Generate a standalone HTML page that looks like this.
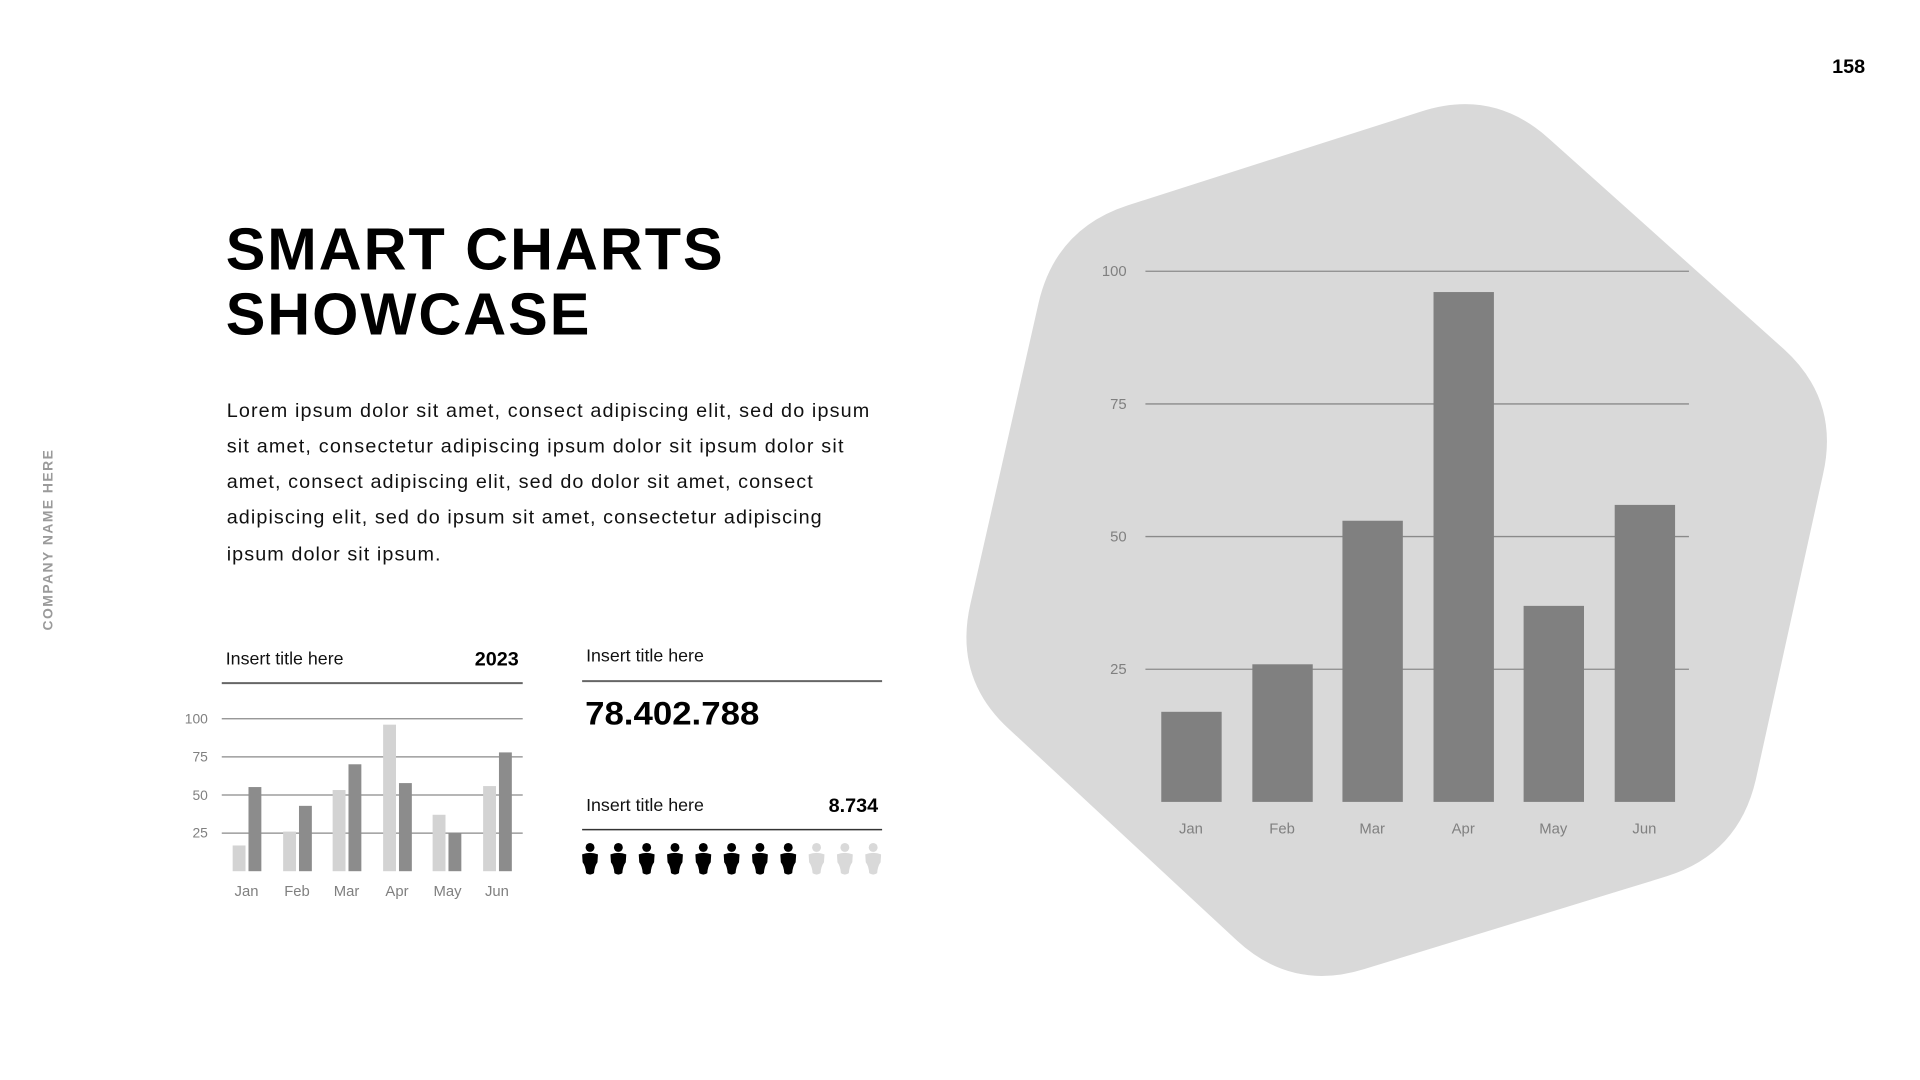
<!DOCTYPE html>
<html><head><meta charset="utf-8"><style>
html,body{margin:0;padding:0;background:#fff;width:1920px;height:1080px;overflow:hidden}
svg{display:block}
text{font-family:"Liberation Sans",sans-serif}
</style></head><body>
<svg width="1920" height="1080" viewBox="0 0 1920 1080" xmlns="http://www.w3.org/2000/svg">
<rect width="1920" height="1080" fill="#fff"/>
<g transform="scale(0.99)">
<text x="1884" y="74" font-size="20" font-weight="700" text-anchor="end" fill="#000">158</text>
<text transform="translate(53,545) rotate(-90)" font-size="14" font-weight="700" fill="#9a9a9a" text-anchor="middle" letter-spacing="1.5">COMPANY NAME HERE</text>

<text x="228" y="272" font-size="60" font-weight="700" letter-spacing="2" fill="#000">SMART CHARTS</text>
<text x="228" y="338" font-size="60" font-weight="700" letter-spacing="2" fill="#000">SHOWCASE</text>

<g font-size="20" fill="#111">
<text x="229" y="421" textLength="649" lengthAdjust="spacing">Lorem ipsum dolor sit amet, consect adipiscing elit, sed do ipsum</text>
<text x="229" y="457" textLength="623" lengthAdjust="spacing">sit amet, consectetur adipiscing ipsum dolor sit ipsum dolor sit</text>
<text x="229" y="493" textLength="592" lengthAdjust="spacing">amet, consect adipiscing elit, sed do dolor sit amet, consect</text>
<text x="229" y="529" textLength="601" lengthAdjust="spacing">adipiscing elit, sed do ipsum sit amet, consectetur adipiscing</text>
<text x="229" y="566" textLength="216" lengthAdjust="spacing">ipsum dolor sit ipsum.</text>
</g>

<g transform="translate(6,0)">
<path transform="matrix(1.012,0,0,1.03,-11.5,-2.7)" fill="#d9d9d9" d="M1424 112 Q1496 89 1552 139 L1786 345 Q1842 395 1825 468 L1758 767 Q1741 840 1669 862 L1367 953 Q1295 975 1240 925 L1013 718 Q957 668 974 595 L1042 300 Q1059 227 1131 204 Z"/>
<g stroke="#8a8a8a" stroke-width="1.3">
<line x1="1151" y1="274" x2="1700" y2="274"/>
<line x1="1151" y1="408" x2="1700" y2="408"/>
<line x1="1151" y1="542" x2="1700" y2="542"/>
<line x1="1151" y1="676" x2="1700" y2="676"/>
</g>
<g font-size="15" fill="#808080" text-anchor="end">
<text x="1132" y="279">100</text><text x="1132" y="413">75</text><text x="1132" y="547">50</text><text x="1132" y="681">25</text>
</g>
<g fill="#808080">
<rect x="1167" y="719" width="61" height="91"/>
<rect x="1259" y="671" width="61" height="139"/>
<rect x="1350" y="526" width="61" height="284"/>
<rect x="1442" y="295" width="61" height="515"/>
<rect x="1533" y="612" width="61" height="198"/>
<rect x="1625" y="510" width="61" height="300"/>
</g>
<g font-size="15" fill="#808080" text-anchor="middle">
<text x="1197" y="842">Jan</text><text x="1289" y="842">Feb</text><text x="1380" y="842">Mar</text><text x="1472" y="842">Apr</text><text x="1563" y="842">May</text><text x="1655" y="842">Jun</text>
</g>
</g>

<g transform="translate(0,4)">
<text x="228" y="667" font-size="18" fill="#111">Insert title here</text>
<text x="524" y="668" font-size="20" font-weight="700" text-anchor="end" fill="#000">2023</text>
<line x1="224" y1="686" x2="528" y2="686" stroke="#666" stroke-width="2"/>
<g stroke="#8a8a8a" stroke-width="1.3">
<line x1="224" y1="722" x2="528" y2="722"/>
<line x1="224" y1="760.5" x2="528" y2="760.5"/>
<line x1="224" y1="799" x2="528" y2="799"/>
<line x1="224" y1="837.5" x2="528" y2="837.5"/>
</g>
<g font-size="14" fill="#808080" text-anchor="end">
<text x="210" y="727">100</text><text x="210" y="765">75</text><text x="210" y="804">50</text><text x="210" y="842">25</text>
</g>
<g fill="#d3d3d3">
<rect x="235" y="850" width="13" height="26"/>
<rect x="286" y="836" width="13" height="40"/>
<rect x="336" y="794" width="13" height="82"/>
<rect x="387" y="728" width="13" height="148"/>
<rect x="437" y="819" width="13" height="57"/>
<rect x="488" y="790" width="13" height="86"/>
</g>
<g fill="#8c8c8c">
<rect x="251" y="791" width="13" height="85"/>
<rect x="302" y="810" width="13" height="66"/>
<rect x="352" y="768" width="13" height="108"/>
<rect x="403" y="787" width="13" height="89"/>
<rect x="453" y="837" width="13" height="39"/>
<rect x="504" y="756" width="13" height="120"/>
</g>
<g font-size="15" fill="#808080" text-anchor="middle">
<text x="249" y="901">Jan</text><text x="300" y="901">Feb</text><text x="350" y="901">Mar</text><text x="401" y="901">Apr</text><text x="452" y="901">May</text><text x="502" y="901">Jun</text>
</g>
</g>

<text x="592" y="668" font-size="18" fill="#111">Insert title here</text>
<line x1="588" y1="688" x2="891" y2="688" stroke="#666" stroke-width="2"/>
<text x="591" y="732" font-size="33" font-weight="700" fill="#000" textLength="176" lengthAdjust="spacingAndGlyphs">78.402.788</text>
<text x="592" y="819" font-size="18" fill="#111">Insert title here</text>
<text x="887" y="820" font-size="20" font-weight="700" text-anchor="end" fill="#000">8.734</text>
<line x1="588" y1="838" x2="891" y2="838" stroke="#333" stroke-width="1.6"/>
<defs>
<g id="p"><circle cx="0" cy="-13" r="4.5"/><path d="M-8 -6 Q0 -9 8 -6 L7.5 2 Q4.5 6 4 13 Q0 16 -4 13 Q-4.5 6 -7.5 2 Z"/></g>
</defs>
<g fill="#000">
<use href="#p" x="596" y="869"/><use href="#p" x="624.6" y="869"/><use href="#p" x="653.2" y="869"/><use href="#p" x="681.8" y="869"/>
<use href="#p" x="710.4" y="869"/><use href="#p" x="739" y="869"/><use href="#p" x="767.6" y="869"/><use href="#p" x="796.2" y="869"/>
</g>
<g fill="#d9d9d9">
<use href="#p" x="824.8" y="869"/><use href="#p" x="853.4" y="869"/><use href="#p" x="882" y="869"/>
</g>
</g>
</svg>
</body></html>
